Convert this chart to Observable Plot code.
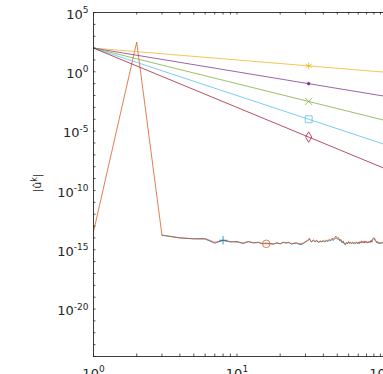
<!DOCTYPE html>
<html><head><meta charset="utf-8">
<script src="https://cdn.jsdelivr.net/npm/d3@7"></script>
<script src="https://cdn.jsdelivr.net/npm/@observablehq/plot@0.6"></script>
<style>
html,body{margin:0;padding:0;background:#fff;overflow:hidden;}
</style></head><body><div id="chart"></div>
<script>
// log10 of |u^k| for the orange series, k = 1..105
const orangeExp = [-13.49, 2.5, -13.77, -14.0, -14.08, -14.05, -14.38, -14.22, -14.3, -14.36,
 -14.44, -14.30, -14.44, -14.36, -14.5, -14.5, -14.5, -14.5, -14.44, -14.5,
 -14.36, -14.44, -14.36, -14.53, -14.44, -14.41, -14.5, -14.47, -14.44, -14.3,
 -14.22, -14.02, -14.36, -14.16, -14.3, -14.19, -14.36, -14.25, -14.3, -14.22,
 -14.3, -14.19, -14.25, -14.11, -14.19, -14.02, -14.13, -13.94, -13.85, -14.02,
 -13.97, -14.19, -14.11, -14.36, -14.25, -14.47, -14.5, -14.36, -14.47, -14.3,
 -14.44, -14.36, -14.47, -14.36, -14.44, -14.39, -14.47, -14.33, -14.44, -14.36,
 -14.47, -14.3, -14.41, -14.25, -14.39, -14.3, -14.41, -14.25, -14.36, -14.3,
 -14.41, -14.3, -14.39, -14.27, -14.36, -14.19, -14.3, -14.11, -14.02, -13.97,
 -14.02, -14.16, -14.25, -14.36, -14.3, -14.41, -14.36, -14.47, -14.39, -14.41,
 -14.36, -14.44, -14.39, -14.36, -14.41];
const orangeStartK = 1;
// log10 of |u^k| for the blue series, k = 3..105
const blueExp = [-13.77, -14.0, -14.08, -14.1, -14.45, -14.2, -14.35, -14.3,
 -14.47, -14.33, -14.4, -14.39, -14.47, -14.44, -14.47, -14.53, -14.41, -14.5,
 -14.39, -14.41, -14.4, -14.5, -14.47, -14.44, -14.53, -14.58, -14.47, -14.36,
 -14.25, -14.13, -14.33, -14.22, -14.33, -14.25, -14.39, -14.3, -14.33, -14.27,
 -14.33, -14.25, -14.3, -14.2, -14.25, -14.13, -14.22, -14.05, -14.0, -14.11,
 -14.08, -14.25, -14.2, -14.41, -14.33, -14.53, -14.58, -14.41, -14.5, -14.36,
 -14.47, -14.41, -14.5, -14.41, -14.47, -14.44, -14.5, -14.39, -14.47, -14.41,
 -14.5, -14.36, -14.44, -14.3, -14.41, -14.36, -14.44, -14.3, -14.39, -14.36,
 -14.44, -14.36, -14.41, -14.33, -14.39, -14.25, -14.36, -14.2, -14.11, -14.05,
 -14.1, -14.22, -14.3, -14.41, -14.36, -14.44, -14.41, -14.5, -14.44, -14.47,
 -14.41, -14.47, -14.44, -14.39, -14.44];
const blueStartK = 3;
const blueMarkK = [8];
const orangeMarkK = [16];

// reference decay lines
const decayK = [1, 31.6, 105];
const decayYellow = [100, 3.16, 0.95];
const decayPurple = [100, 0.1, 0.0091];
const decayGreen  = [100, 0.00316, 8.6e-5];
const decayCyan   = [100, 1e-4, 8.2e-7];
const decayRed    = [100, 3.16e-6, 7.8e-9];

// axis ticks
const yLabelTicks = [1e-20, 1e-15, 1e-10, 1e-5, 1, 1e5];
const yLabelExps  = ["-20", "-15", "-10", "-5", "0", "5"];
const yMinorTicks = d3.range(-24, 6).map(e => 10 ** e);
const xLabelTicks = [1, 10, 100];
const xLabelExps  = ["0", "1", "2"];
const xMinorTicks = [1,2,3,4,5,6,7,8,9,10,20,30,40,50,60,70,80,90,100];

const C = {blue:"#0072BD", orange:"#D95319", yellow:"#EDB120", purple:"#7E2F8E", green:"#77AC30", cyan:"#4DBEEE", red:"#A2142F", axis:"#262626"};

const orange = orangeExp.map((e, i) => ({k: orangeStartK + i, v: 10 ** e}));
const blue = blueExp.map((e, i) => ({k: blueStartK + i, v: 10 ** e}));
const decaySeries = [
  {vals: decayYellow, color: C.yellow, symbol: "asterisk", r: 3.3, fill: "none"},
  {vals: decayPurple, color: C.purple, symbol: "circle", r: 1.3, fill: C.purple},
  {vals: decayGreen, color: C.green, symbol: "times", r: 3.3, fill: "none"},
  {vals: decayCyan, color: C.cyan, symbol: "square", r: 3.9, fill: "none"},
  {vals: decayRed, color: C.red, symbol: d3.symbolDiamond, r: 3.2, fill: "none"}
];

const W = 383, H = 374, mL = 93, mT = 12, mB = 18, mR = 0;
const plotW = W - mL - mR, plotH = H - mT - mB;
const LW = 0.75;

const marks = [];
marks.push(Plot.line(blue, {x: "k", y: "v", stroke: C.blue, strokeWidth: LW, clip: true}));
marks.push(Plot.line(orange, {x: "k", y: "v", stroke: C.orange, strokeWidth: LW, clip: true}));
for (const s of decaySeries) {
  const data = decayK.map((k, i) => ({k, v: s.vals[i]}));
  marks.push(Plot.line(data, {x: "k", y: "v", stroke: s.color, strokeWidth: LW, clip: true}));
  marks.push(Plot.dot([data[1]], {x: "k", y: "v", stroke: s.color, fill: s.fill, symbol: s.symbol, r: s.r, strokeWidth: LW}));
}
marks.push(Plot.dot(blue.filter(d => blueMarkK.includes(d.k)), {x: "k", y: "v", stroke: C.blue, symbol: "plus", r: 2.8, strokeWidth: LW}));
marks.push(Plot.dot(orange.filter(d => orangeMarkK.includes(d.k)), {x: "k", y: "v", stroke: C.orange, fill: "none", symbol: "circle", r: 3.8, strokeWidth: LW}));

// inner ticks
marks.push(Plot.tickY(yMinorTicks, {y: d => d, stroke: C.axis, strokeWidth: 0.8, insetRight: plotW - 2.5}));
marks.push(Plot.tickX(xMinorTicks, {x: d => d, stroke: C.axis, strokeWidth: 0.8, insetTop: plotH - 2.5}));
marks.push(Plot.tickX(xMinorTicks, {x: d => d, stroke: C.axis, strokeWidth: 0.8, insetBottom: plotH - 2.5}));
// frame lines
marks.push(Plot.ruleX([1], {stroke: C.axis, strokeWidth: 0.9}));
marks.push(Plot.ruleY([1e-24, 1e5], {stroke: C.axis, strokeWidth: 0.9}));
// labels
marks.push(Plot.axisY(yLabelTicks, {tickSize: 0, tickPadding: 5, dy: 2, label: null,
  tickFormat: d => "10^" + yLabelExps[yLabelTicks.indexOf(d)], fill: C.axis}));
marks.push(Plot.axisX(xLabelTicks, {tickSize: 0, tickPadding: 12, label: null,
  tickFormat: d => "10^" + xLabelExps[xLabelTicks.indexOf(d)], fill: C.axis}));

const chart = Plot.plot({
  width: W, height: H,
  marginLeft: mL, marginRight: mR, marginTop: mT, marginBottom: mB,
  style: {fontFamily: "DejaVu Sans", fontSize: "13px", background: "white", color: C.axis, overflow: "hidden"},
  x: {type: "log", domain: [1, 105]},
  y: {type: "log", domain: [1e-24, 1e5]},
  marks
});

const svg = d3.select(chart);
svg.selectAll('g[aria-label$="tick label"] text').each(function () {
  const t = this.textContent;
  const m = t.match(/^10\^(.*)$/);
  if (!m) return;
  const s = d3.select(this);
  s.text(null);
  s.append("tspan").text("10");
  s.append("tspan").attr("dy", "-5.7").attr("font-size", "9px").text(m[1]);
});
const lab = svg.append("text")
  .attr("transform", "translate(41,183) rotate(-90)")
  .attr("text-anchor", "middle")
  .attr("font-family", "DejaVu Sans")
  .attr("font-size", 11)
  .attr("fill", C.axis);
lab.append("tspan").text("|û");
lab.append("tspan").attr("dy", -4).attr("font-size", 8).text("k");
lab.append("tspan").attr("dy", 4).text("|");

document.getElementById("chart").appendChild(chart);
</script></body></html>
